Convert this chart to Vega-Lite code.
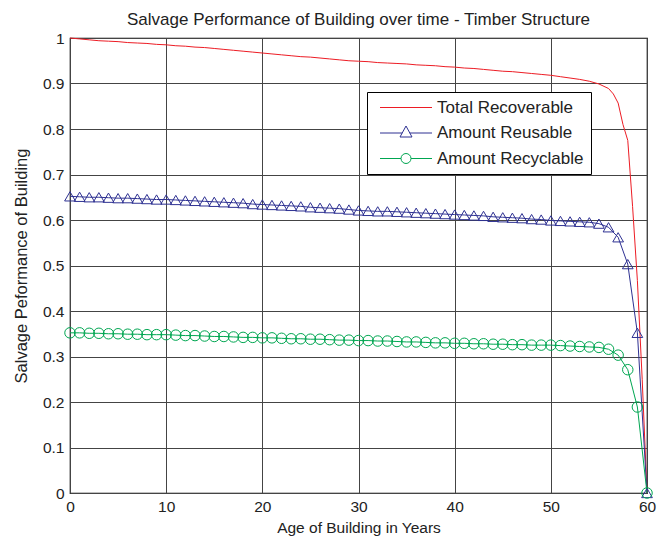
{
  "$schema": "https://vega.github.io/schema/vega-lite/v6.json",
  "width": 577,
  "height": 455,
  "autosize": "none",
  "padding": {"left": 70, "top": 38, "right": 23, "bottom": 47},
  "background": "white",
  "title": {
    "text": "Salvage Performance of Building over time - Timber Structure",
    "font": "Liberation Sans",
    "fontSize": 17,
    "fontWeight": "normal",
    "color": "#222",
    "anchor": "middle",
    "offset": 2
  },
  "config": {
    "font": "Liberation Sans",
    "view": {"stroke": "#000", "strokeWidth": 1.2},
    "axis": {
      "labelFont": "Liberation Sans",
      "labelFontSize": 15.5,
      "labelColor": "#222",
      "titleFont": "Liberation Sans",
      "titleFontWeight": "normal",
      "titleColor": "#222",
      "grid": true,
      "gridColor": "#444",
      "gridWidth": 1,
      "gridOpacity": 1,
      "ticks": false,
      "labelFlush": false,
      "domainColor": "#000",
      "domainWidth": 1.2
    }
  },
  "data": {
    "values": [
      {"year": 0, "total": 1.000, "reuse": 0.652, "recyc": 0.352},
      {"year": 1, "total": 0.998, "reuse": 0.651, "recyc": 0.352},
      {"year": 2, "total": 0.996, "reuse": 0.650, "recyc": 0.351},
      {"year": 3, "total": 0.994, "reuse": 0.650, "recyc": 0.351},
      {"year": 4, "total": 0.993, "reuse": 0.649, "recyc": 0.350},
      {"year": 5, "total": 0.992, "reuse": 0.648, "recyc": 0.350},
      {"year": 6, "total": 0.990, "reuse": 0.648, "recyc": 0.349},
      {"year": 7, "total": 0.989, "reuse": 0.647, "recyc": 0.349},
      {"year": 8, "total": 0.988, "reuse": 0.646, "recyc": 0.348},
      {"year": 9, "total": 0.986, "reuse": 0.645, "recyc": 0.348},
      {"year": 10, "total": 0.985, "reuse": 0.645, "recyc": 0.348},
      {"year": 11, "total": 0.983, "reuse": 0.644, "recyc": 0.347},
      {"year": 12, "total": 0.982, "reuse": 0.643, "recyc": 0.346},
      {"year": 13, "total": 0.980, "reuse": 0.642, "recyc": 0.346},
      {"year": 14, "total": 0.979, "reuse": 0.641, "recyc": 0.345},
      {"year": 15, "total": 0.977, "reuse": 0.640, "recyc": 0.344},
      {"year": 16, "total": 0.975, "reuse": 0.639, "recyc": 0.344},
      {"year": 17, "total": 0.973, "reuse": 0.638, "recyc": 0.343},
      {"year": 18, "total": 0.971, "reuse": 0.637, "recyc": 0.342},
      {"year": 19, "total": 0.969, "reuse": 0.635, "recyc": 0.342},
      {"year": 20, "total": 0.967, "reuse": 0.634, "recyc": 0.341},
      {"year": 21, "total": 0.965, "reuse": 0.633, "recyc": 0.341},
      {"year": 22, "total": 0.963, "reuse": 0.632, "recyc": 0.340},
      {"year": 23, "total": 0.961, "reuse": 0.631, "recyc": 0.339},
      {"year": 24, "total": 0.959, "reuse": 0.630, "recyc": 0.339},
      {"year": 25, "total": 0.958, "reuse": 0.628, "recyc": 0.338},
      {"year": 26, "total": 0.956, "reuse": 0.627, "recyc": 0.338},
      {"year": 27, "total": 0.954, "reuse": 0.626, "recyc": 0.337},
      {"year": 28, "total": 0.952, "reuse": 0.625, "recyc": 0.336},
      {"year": 29, "total": 0.950, "reuse": 0.623, "recyc": 0.336},
      {"year": 30, "total": 0.949, "reuse": 0.621, "recyc": 0.335},
      {"year": 31, "total": 0.948, "reuse": 0.620, "recyc": 0.335},
      {"year": 32, "total": 0.946, "reuse": 0.619, "recyc": 0.334},
      {"year": 33, "total": 0.945, "reuse": 0.619, "recyc": 0.334},
      {"year": 34, "total": 0.944, "reuse": 0.618, "recyc": 0.333},
      {"year": 35, "total": 0.943, "reuse": 0.617, "recyc": 0.332},
      {"year": 36, "total": 0.941, "reuse": 0.616, "recyc": 0.332},
      {"year": 37, "total": 0.940, "reuse": 0.615, "recyc": 0.331},
      {"year": 38, "total": 0.939, "reuse": 0.614, "recyc": 0.330},
      {"year": 39, "total": 0.937, "reuse": 0.613, "recyc": 0.330},
      {"year": 40, "total": 0.936, "reuse": 0.612, "recyc": 0.329},
      {"year": 41, "total": 0.934, "reuse": 0.611, "recyc": 0.329},
      {"year": 42, "total": 0.933, "reuse": 0.610, "recyc": 0.328},
      {"year": 43, "total": 0.931, "reuse": 0.609, "recyc": 0.328},
      {"year": 44, "total": 0.929, "reuse": 0.607, "recyc": 0.327},
      {"year": 45, "total": 0.927, "reuse": 0.606, "recyc": 0.327},
      {"year": 46, "total": 0.926, "reuse": 0.605, "recyc": 0.326},
      {"year": 47, "total": 0.924, "reuse": 0.604, "recyc": 0.326},
      {"year": 48, "total": 0.922, "reuse": 0.602, "recyc": 0.325},
      {"year": 49, "total": 0.920, "reuse": 0.601, "recyc": 0.325},
      {"year": 50, "total": 0.918, "reuse": 0.599, "recyc": 0.325},
      {"year": 51, "total": 0.915, "reuse": 0.598, "recyc": 0.324},
      {"year": 52, "total": 0.912, "reuse": 0.597, "recyc": 0.323},
      {"year": 53, "total": 0.909, "reuse": 0.596, "recyc": 0.322},
      {"year": 54, "total": 0.905, "reuse": 0.595, "recyc": 0.321},
      {"year": 55, "total": 0.899, "reuse": 0.592, "recyc": 0.320},
      {"year": 56, "total": 0.889, "reuse": 0.584, "recyc": 0.316},
      {"year": 56.5, "total": 0.877},
      {"year": 57, "total": 0.857, "reuse": 0.562, "recyc": 0.303},
      {"year": 57.5, "total": 0.810},
      {"year": 58, "total": 0.775, "reuse": 0.503, "recyc": 0.271},
      {"year": 58.5, "total": 0.630},
      {"year": 59, "total": 0.467, "reuse": 0.352, "recyc": 0.189},
      {"year": 59.5, "total": 0.250},
      {"year": 60, "total": 0.000, "reuse": 0.000, "recyc": 0.000}
    ]
  },
  "transform": [
    {"fold": ["total", "reuse", "recyc"], "as": ["key", "value"]},
    {"filter": "isValid(datum.value)"},
    {"lookup": "key", "from": {"data": {"values": [
      {"key": "total", "series": "Total Recoverable"},
      {"key": "reuse", "series": "Amount Reusable"},
      {"key": "recyc", "series": "Amount Recyclable"}
    ]}, "key": "key", "fields": ["series"]}}
  ],
  "encoding": {
    "x": {
      "field": "year", "type": "quantitative",
      "scale": {"domain": [0, 60], "nice": false},
      "axis": {"values": [0, 10, 20, 30, 40, 50, 60], "title": "Age of Building in Years", "titleFontSize": 15.5, "labelPadding": 6, "titlePadding": 6, "domain": false}
    },
    "y": {
      "field": "value", "type": "quantitative",
      "scale": {"domain": [0, 1], "nice": false},
      "axis": {"values": [0, 0.1, 0.2, 0.3, 0.4, 0.5, 0.6, 0.7, 0.8, 0.9, 1], "format": "~g", "title": "Salvage Peformance of Building", "titleFontSize": 16.5, "labelPadding": 6, "titlePadding": 13, "domain": false}
    }
  },
  "layer": [
    {
      "mark": {"type": "line", "strokeWidth": 1, "opacity": 1},
      "encoding": {
        "color": {
          "field": "series", "type": "nominal",
          "scale": {"domain": ["Amount Reusable", "Amount Recyclable", "Total Recoverable"], "range": ["#2E3192", "#00A651", "#ED1C24"]},
          "legend": null
        }
      }
    },
    {
      "transform": [{"filter": "datum.key == 'reuse'"}],
      "mark": {"type": "point", "shape": "triangle-up", "filled": false, "strokeWidth": 1, "size": 115, "opacity": 1, "color": "#2E3192"}
    },
    {
      "transform": [{"filter": "datum.key == 'recyc'"}],
      "mark": {"type": "point", "shape": "circle", "filled": false, "strokeWidth": 1, "size": 110, "opacity": 1, "color": "#00A651"}
    },
    {
      "transform": [{"filter": "datum.year < 0"}],
      "mark": {"type": "point", "filled": false, "strokeWidth": 1, "size": 100, "opacity": 1},
      "encoding": {
        "stroke": {
          "field": "series", "type": "nominal",
          "scale": {"domain": ["Total Recoverable", "Amount Reusable", "Amount Recyclable"], "range": ["#ED1C24", "#2E3192", "#00A651"]},
          "legend": {
            "title": null,
            "orient": "none",
            "legendX": 297,
            "legendY": 54,
            "padding": 7,
            "strokeColor": "#000",
            "fillColor": "white",
            "labelFont": "Liberation Sans",
            "labelFontSize": 17,
            "labelColor": "#222",
            "symbolSize": 100,
            "symbolStrokeWidth": 1,
            "symbolOffset": 23.5,
            "labelOffset": 22.5,
            "rowPadding": 7.5
          }
        },
        "shape": {
          "field": "series", "type": "nominal",
          "scale": {"domain": ["Total Recoverable", "Amount Reusable", "Amount Recyclable"], "range": ["M-5.2,0H5.2", "M-5.2,0H-0.76M0.76,0H5.2M0,-1.4L1.2,0.8H-1.2Z", "M-5.2,0H-1M1,0H5.2M1,0A1,1,0,1,1,-1,0A1,1,0,1,1,1,0"]},
          "legend": {
            "title": null,
            "orient": "none",
            "legendX": 297,
            "legendY": 54,
            "padding": 7,
            "strokeColor": "#000",
            "fillColor": "white",
            "labelFont": "Liberation Sans",
            "labelFontSize": 17,
            "labelColor": "#222",
            "symbolSize": 100,
            "symbolStrokeWidth": 1,
            "symbolOffset": 23.5,
            "labelOffset": 22.5,
            "rowPadding": 7.5
          }
        }
      }
    }
  ]
}
